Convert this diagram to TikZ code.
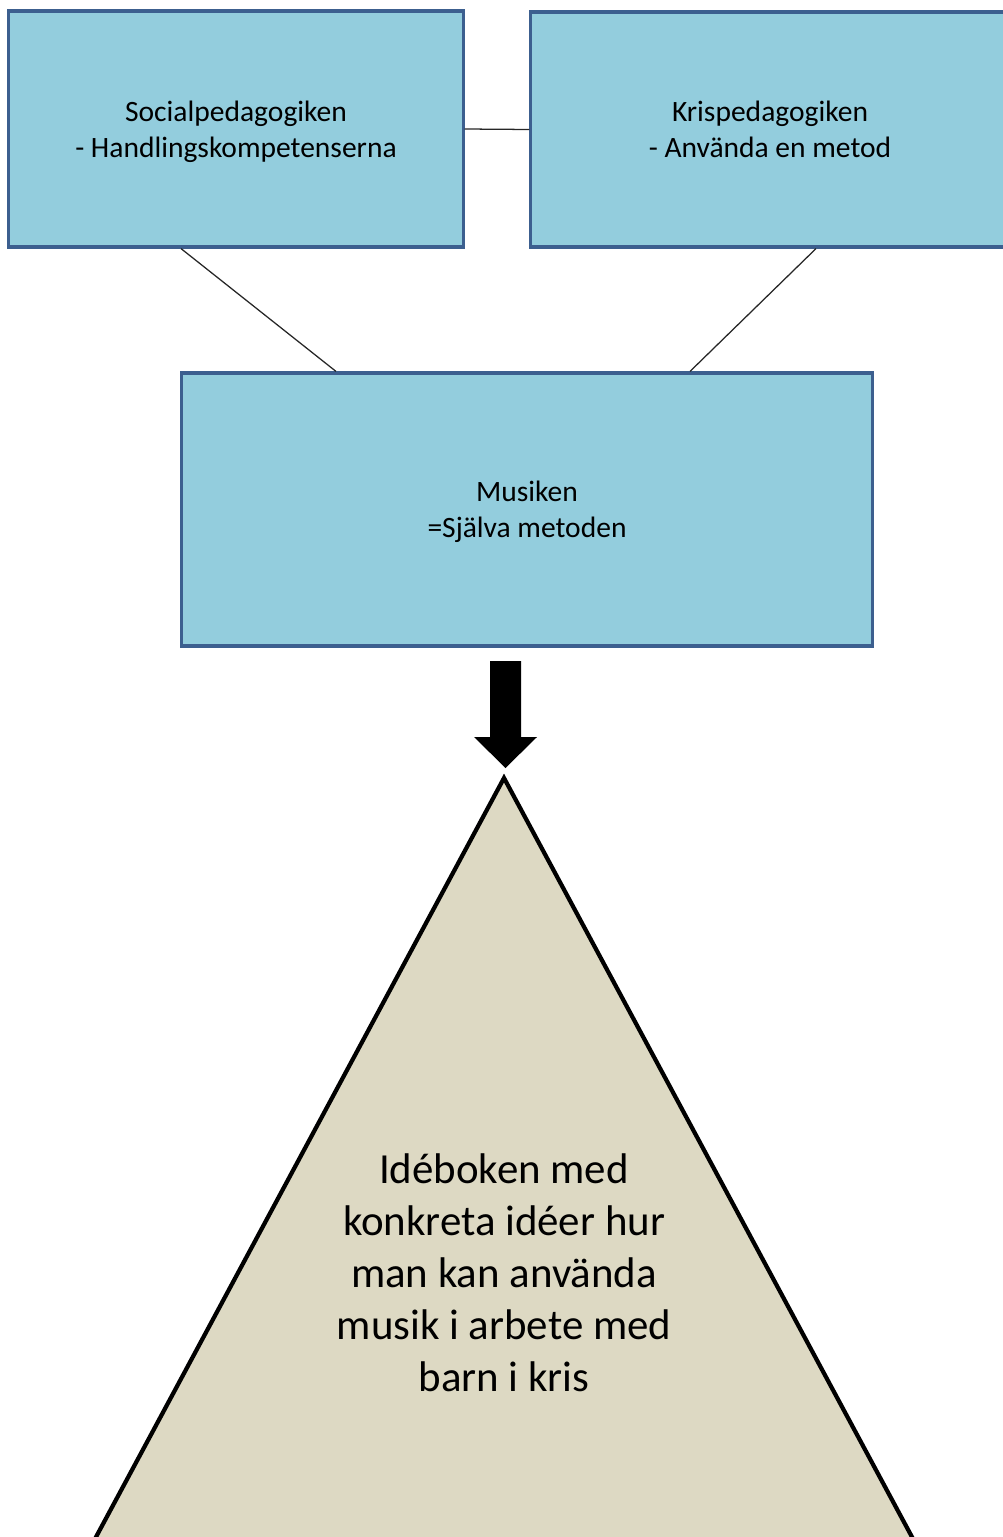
\documentclass[tikz,border=0pt]{standalone}
\usepackage{fontspec}
\setmainfont{Carlito}
\usetikzlibrary{calc,positioning}
\definecolor{boxfill}{HTML}{93CDDD}
\definecolor{boxline}{HTML}{3C5F8F}
\definecolor{pyrfill}{HTML}{DDD9C3}
\tikzset{
  topic/.style={draw=boxline,line width=2.2pt,fill=boxfill,align=center,
    font=\fontsize{21}{25.6}\selectfont,inner sep=0pt,
    text height=40pt,text depth=0pt},
  link/.style={line width=0.9pt,black!85}
}
\begin{document}
\begin{tikzpicture}[x=0.025cm,y=-0.025cm]
  \useasboundingbox (0,0) rectangle (1003,1537);
  \clip (0,0) rectangle (1003,1537);
  % the three boxes
  \node[topic,minimum width=11.35cm,minimum height=5.9cm] (social) at (236,129)
    {Socialpedagogiken\\- Handlingskompetenserna};
  \node[topic,minimum width=11.95cm,minimum height=5.875cm] (kris) at (770,129.5)
    {Krispedagogiken\\- Använda en metod};
  \node[topic,minimum width=17.25cm,minimum height=6.825cm] (musik) at (527,509.5)
    {Musiken\\=Själva metoden};
  \draw[link] (social.east) -- (kris.west);
  \draw[link] ([xshift=-55*0.025cm]social.south) -- ([xshift=-191*0.025cm]musik.north);
  \draw[link] ([xshift=46*0.025cm]kris.south) -- ([xshift=163*0.025cm]musik.north);
  % block arrow
  \coordinate (tip) at (505.5,768);
  \fill[black] (490,661) -- (521,661) -- (521,737) -- (537,737) -- (tip)
    -- (474,737) -- (490,737) -- cycle;
  % pyramid
  \coordinate (apex) at (504,778);
  \coordinate (baseL) at ($(apex)!1.15!(96,1537)$);
  \coordinate (baseR) at ($(apex)!1.15!(912,1537)$);
  \draw[line width=3pt,fill=pyrfill,line join=miter] (apex) -- (baseR) -- (baseL) -- cycle;
  \node[align=center,font=\fontsize{30.5}{37}\selectfont] (idebok) at (504,1273)
    {Idéboken med\\konkreta idéer hur\\man kan använda\\musik i arbete med\\barn i kris};
\end{tikzpicture}
\end{document}
